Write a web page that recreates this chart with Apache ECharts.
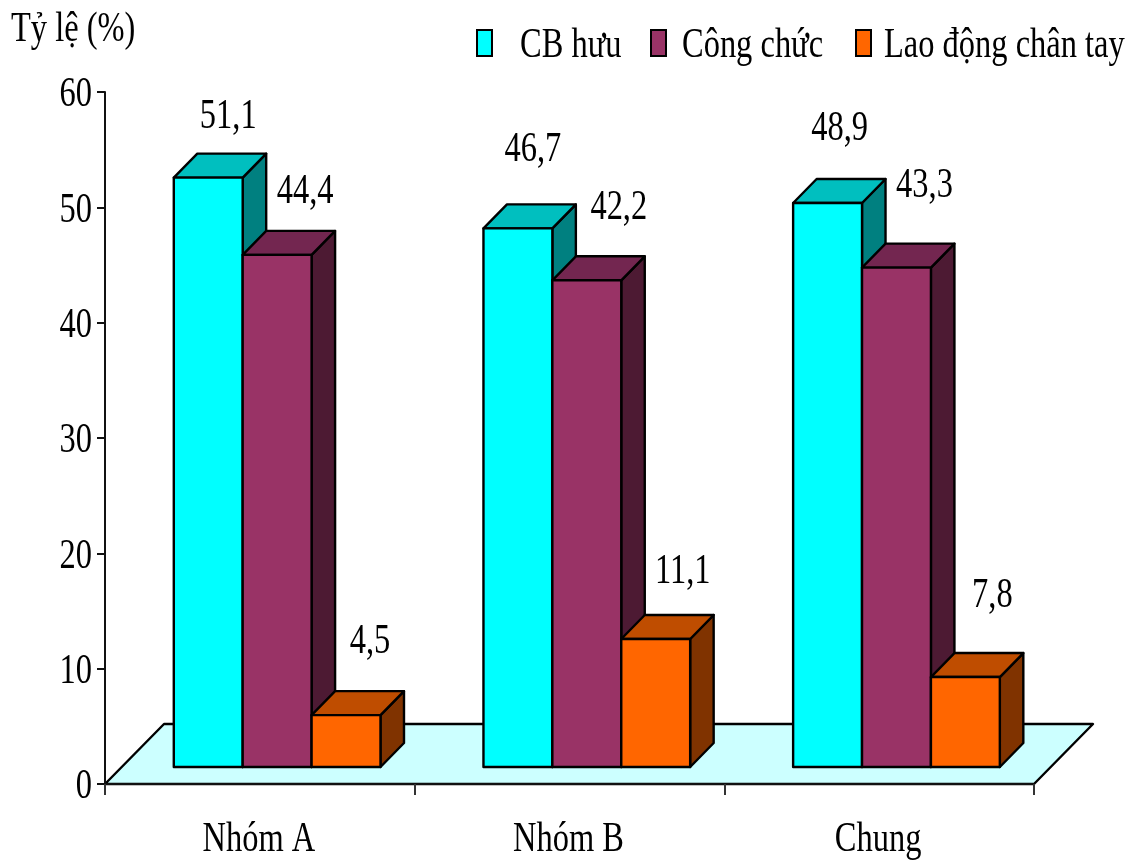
<!DOCTYPE html>
<html>
<head>
<meta charset="utf-8">
<style>html,body{margin:0;padding:0;background:#fff}#chart{width:1136px;height:860px}</style>
<script src="https://cdn.jsdelivr.net/npm/echarts@6/dist/echarts.min.js"></script>
</head>
<body>
<div id="chart"></div>
<script>
// Occupation shares by group
const categories = ['Nhóm A', 'Nhóm B', 'Chung'];
const seriesNames = ['CB hưu', 'Công chức', 'Lao động chân tay'];
const cbHuu = [51.1, 46.7, 48.9];
const congChuc = [44.4, 42.2, 43.3];
const laoDong = [4.5, 11.1, 7.8];
const valueTicks = [0, 10, 20, 30, 40, 50, 60];
const yTitle = 'Tỷ lệ (%)';

// Face colours of each column: front, top, side
const faces = [
  ['#00FFFF', '#00BFBF', '#008080'],
  ['#993366', '#732650', '#4D1A33'],
  ['#FF6600', '#BF4D00', '#803300']
];

// Oblique projection: floor depth, column plane offset and column depth, in pixels
const FLOOR_DX = 59, FLOOR_DY = 60;
const PLANE_DX = 0.2, PLANE_DY = 17;
const DEPTH_DX = 23.5, DEPTH_DY = 24;

// Value label placement per series and group: [shift right of column centre, lift above column top]
const labelShift = [
  [[20, 61], [15, 79], [12, 74]],
  [[28, 63], [32, 73], [28, 82]],
  [[24, 73], [27, 67], [27, 81]]
];

const FONT = '43px "Liberation Serif", "Times New Roman", serif';
const NARROW = 0.755;
const EDGE = { stroke: '#000', lineWidth: 2.4, lineJoin: 'round' };

function narrowText(x, y, text, align, z2) {
  return {
    type: 'text', x: x, y: y, scaleX: NARROW, scaleY: 1, z2: z2 || 10, silent: true,
    style: { text: text, font: FONT, fill: '#000', align: align, verticalAlign: 'middle' }
  };
}

function poly(points, fill) {
  return { type: 'polygon', shape: { points: points }, style: Object.assign({ fill: fill }, EDGE), silent: true };
}

function renderFloor(params, api) {
  const band = api.size([1, 0])[0];
  const l = api.coord([0, 0]);
  const r = api.coord([categories.length - 1, 0]);
  const x0 = l[0] - band / 2, x1 = r[0] + band / 2, y = l[1];
  return poly([[x0, y], [x1, y], [x1 + FLOOR_DX, y - FLOOR_DY], [x0 + FLOOR_DX, y - FLOOR_DY]], '#CCFFFF');
}

function columnRenderer(si) {
  return function (params, api) {
    const idx = api.value(0), val = api.value(1);
    const band = api.size([1, 0])[0];
    const base = api.coord([idx, 0]);
    const top = api.coord([idx, val]);
    const w = band * 0.2225;
    const left = base[0] - band / 2 + band * 0.2215 + si * w + PLANE_DX;
    const right = left + w;
    const yb = base[1] - PLANE_DY;
    const yt = top[1] - PLANE_DY;
    const f = faces[si];
    const s = labelShift[si][idx];
    return {
      type: 'group',
      children: [
        poly([[right, yb], [right + DEPTH_DX, yb - DEPTH_DY], [right + DEPTH_DX, yt - DEPTH_DY], [right, yt]], f[2]),
        poly([[left, yt], [right, yt], [right + DEPTH_DX, yt - DEPTH_DY], [left + DEPTH_DX, yt - DEPTH_DY]], f[1]),
        poly([[left, yb], [right, yb], [right, yt], [left, yt]], f[0]),
        narrowText(left + w / 2 + s[0], yt - s[1], String(val).replace('.', ','), 'center', 20)
      ]
    };
  };
}

function renderValueTick(params, api) {
  const p = api.coord([0, api.value(1)]);
  const band = api.size([1, 0])[0];
  return narrowText(p[0] - band / 2 - 13, p[1] + 3, String(api.value(1)), 'right');
}

function renderCategoryLabel(params, api) {
  const p = api.coord([api.value(0), 0]);
  return narrowText(p[0] - 1, p[1] + 56, categories[api.value(0)], 'center');
}

const rows = s => s.map((v, i) => [i, v]);

const columnSeries = [cbHuu, congChuc, laoDong].map((vals, si) => ({
  name: seriesNames[si], type: 'custom', renderItem: columnRenderer(si),
  data: rows(vals), encode: { x: 0, y: 1 }, clip: false, z: 3 + si, silent: true
}));

// Legend entries and the axis title, set in the same narrow serif as the chart
const legendSwatches = [477, 651, 856];
const legendText = [[520, 'left'], [682, 'left'], [884, 'left']];
const legendGraphics = [];
seriesNames.forEach((name, i) => {
  legendGraphics.push({
    type: 'rect', shape: { x: legendSwatches[i], y: 30, width: 15, height: 26 },
    style: { fill: faces[i][0], stroke: '#000', lineWidth: 2 }, silent: true
  });
  legendGraphics.push({
    type: 'text', x: legendText[i][0], y: 46, scaleX: NARROW, silent: true,
    style: { text: name, font: FONT, fill: '#000', align: 'left', verticalAlign: 'middle' }
  });
});
legendGraphics.push({
  type: 'text', x: 11, y: 30, scaleX: NARROW, silent: true,
  style: { text: yTitle, font: FONT, fill: '#000', align: 'left', verticalAlign: 'middle' }
});

const chart = echarts.init(document.getElementById('chart'), null, { renderer: 'canvas' });
chart.setOption({
  animation: false,
  backgroundColor: '#fff',
  grid: { left: 105, right: 102, top: 92, bottom: 76, containLabel: false },
  xAxis: {
    type: 'category', data: categories, z: 8,
    axisLine: { show: true, lineStyle: { color: '#111', width: 2 } },
    axisTick: { show: true, length: 11, alignWithLabel: false, lineStyle: { color: '#333', width: 2 } },
    axisLabel: { show: false }, splitLine: { show: false }
  },
  yAxis: {
    type: 'value', min: 0, max: 60, interval: 10, z: 8,
    axisLine: { show: true, onZero: false, lineStyle: { color: '#111', width: 2 } },
    axisTick: { show: true, length: 8, lineStyle: { color: '#111', width: 2 } },
    axisLabel: { show: false }, splitLine: { show: false }
  },
  graphic: legendGraphics,
  series: [
    { name: 'floor', type: 'custom', renderItem: renderFloor, data: [[0, 0]], encode: { x: 0, y: 1 }, clip: false, z: 2, silent: true },
    ...columnSeries,
    { name: 'valueTicks', type: 'custom', renderItem: renderValueTick, data: valueTicks.map(v => [0, v]), encode: { x: 0, y: 1 }, clip: false, z: 9, silent: true },
    { name: 'categoryLabels', type: 'custom', renderItem: renderCategoryLabel, data: categories.map((c, i) => [i, 0]), encode: { x: 0, y: 1 }, clip: false, z: 9, silent: true }
  ]
});
</script>
</body>
</html>
